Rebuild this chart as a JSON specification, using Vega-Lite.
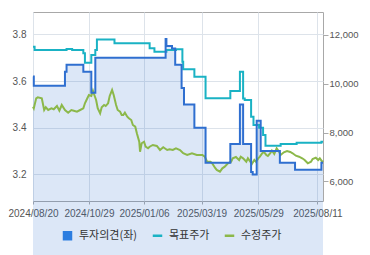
{
  "$schema": "https://vega.github.io/schema/vega-lite/v6.json",
  "width": 290,
  "height": 189,
  "autosize": "none",
  "padding": {"left": 33, "top": 12, "right": 47, "bottom": 54},
  "background": "white",
  "config": {
    "view": {"stroke": "#a8a8a8", "strokeWidth": 1},
    "axis": {"labelColor": "#555555", "labelFont": "Liberation Sans", "title": null, "domain": false}
  },
  "datasets": {
    "op": [
      {"d": "2024/08/20", "v": 3.62}, {"d": "2024/08/21", "v": 3.58}, {"d": "2024/09/29", "v": 3.64},
      {"d": "2024/10/01", "v": 3.67}, {"d": "2024/10/22", "v": 3.64}, {"d": "2024/11/01", "v": 3.55},
      {"d": "2024/11/06", "v": 3.70}, {"d": "2025/02/02", "v": 3.78}, {"d": "2025/02/03", "v": 3.75},
      {"d": "2025/02/10", "v": 3.74}, {"d": "2025/02/14", "v": 3.67}, {"d": "2025/02/22", "v": 3.57},
      {"d": "2025/02/25", "v": 3.50}, {"d": "2025/03/10", "v": 3.40}, {"d": "2025/03/24", "v": 3.25},
      {"d": "2025/04/24", "v": 3.33}, {"d": "2025/05/06", "v": 3.50}, {"d": "2025/05/10", "v": 3.33},
      {"d": "2025/05/20", "v": 3.21}, {"d": "2025/05/22", "v": 3.20}, {"d": "2025/05/27", "v": 3.43},
      {"d": "2025/06/01", "v": 3.30}, {"d": "2025/06/25", "v": 3.25}, {"d": "2025/07/14", "v": 3.22},
      {"d": "2025/08/16", "v": 3.25}, {"d": "2025/08/18", "v": 3.25}
    ],
    "tp": [
      {"d": "2024/08/20", "v": 11520}, {"d": "2024/08/22", "v": 11385}, {"d": "2024/10/01", "v": 11430},
      {"d": "2024/10/08", "v": 11385}, {"d": "2024/10/22", "v": 11250}, {"d": "2024/10/24", "v": 10860},
      {"d": "2024/11/01", "v": 11180}, {"d": "2024/11/06", "v": 11385}, {"d": "2024/11/08", "v": 11820},
      {"d": "2024/11/30", "v": 11660}, {"d": "2025/01/13", "v": 11455}, {"d": "2025/01/19", "v": 11315},
      {"d": "2025/02/03", "v": 11385}, {"d": "2025/02/15", "v": 11414}, {"d": "2025/02/23", "v": 10905},
      {"d": "2025/02/24", "v": 10600}, {"d": "2025/03/10", "v": 10290}, {"d": "2025/03/24", "v": 9404},
      {"d": "2025/04/24", "v": 9700}, {"d": "2025/05/06", "v": 10495}, {"d": "2025/05/10", "v": 9400},
      {"d": "2025/05/12", "v": 9334}, {"d": "2025/05/20", "v": 8650}, {"d": "2025/05/23", "v": 8310},
      {"d": "2025/05/30", "v": 8200}, {"d": "2025/06/04", "v": 7900}, {"d": "2025/06/07", "v": 7460},
      {"d": "2025/06/26", "v": 7530}, {"d": "2025/07/16", "v": 7583}, {"d": "2025/08/16", "v": 7625},
      {"d": "2025/08/18", "v": 7625}
    ],
    "px": [
      {"d": "2024/08/20", "v": 9060}, {"d": "2024/08/21", "v": 8994}, {"d": "2024/08/24", "v": 9404},
      {"d": "2024/08/26", "v": 9445}, {"d": "2024/08/31", "v": 9404}, {"d": "2024/09/03", "v": 8924},
      {"d": "2024/09/05", "v": 9035}, {"d": "2024/09/08", "v": 8924}, {"d": "2024/09/12", "v": 8994},
      {"d": "2024/09/15", "v": 8953}, {"d": "2024/09/19", "v": 9088}, {"d": "2024/09/22", "v": 8896},
      {"d": "2024/09/25", "v": 9129}, {"d": "2024/09/29", "v": 8924}, {"d": "2024/10/03", "v": 8814},
      {"d": "2024/10/07", "v": 8924}, {"d": "2024/10/10", "v": 8896}, {"d": "2024/10/14", "v": 8855},
      {"d": "2024/10/18", "v": 8924}, {"d": "2024/10/22", "v": 8994}, {"d": "2024/10/24", "v": 9199},
      {"d": "2024/10/27", "v": 9404}, {"d": "2024/10/29", "v": 9539}, {"d": "2024/11/01", "v": 9498},
      {"d": "2024/11/03", "v": 9716}, {"d": "2024/11/04", "v": 9609}, {"d": "2024/11/07", "v": 9334},
      {"d": "2024/11/09", "v": 8994}, {"d": "2024/11/12", "v": 8789}, {"d": "2024/11/14", "v": 9035},
      {"d": "2024/11/17", "v": 9129}, {"d": "2024/11/19", "v": 9088}, {"d": "2024/11/22", "v": 9199},
      {"d": "2024/11/24", "v": 9498}, {"d": "2024/11/27", "v": 9744}, {"d": "2024/11/29", "v": 9539},
      {"d": "2024/12/02", "v": 9129}, {"d": "2024/12/04", "v": 8924}, {"d": "2024/12/07", "v": 8855},
      {"d": "2024/12/09", "v": 8719}, {"d": "2024/12/11", "v": 8719}, {"d": "2024/12/13", "v": 8814},
      {"d": "2024/12/16", "v": 8650}, {"d": "2024/12/18", "v": 8584}, {"d": "2024/12/21", "v": 8514},
      {"d": "2024/12/23", "v": 8309}, {"d": "2024/12/26", "v": 8239}, {"d": "2024/12/28", "v": 7969},
      {"d": "2024/12/31", "v": 7624}, {"d": "2025/01/01", "v": 7214}, {"d": "2025/01/03", "v": 7559},
      {"d": "2025/01/06", "v": 7624}, {"d": "2025/01/08", "v": 7419}, {"d": "2025/01/11", "v": 7354},
      {"d": "2025/01/13", "v": 7419}, {"d": "2025/01/17", "v": 7489}, {"d": "2025/01/22", "v": 7448},
      {"d": "2025/01/26", "v": 7284}, {"d": "2025/01/30", "v": 7395}, {"d": "2025/02/04", "v": 7284},
      {"d": "2025/02/07", "v": 7313}, {"d": "2025/02/11", "v": 7284}, {"d": "2025/02/15", "v": 7354},
      {"d": "2025/02/20", "v": 7284}, {"d": "2025/02/24", "v": 7149}, {"d": "2025/03/01", "v": 7079},
      {"d": "2025/03/07", "v": 7149}, {"d": "2025/03/13", "v": 7079}, {"d": "2025/03/20", "v": 7079},
      {"d": "2025/03/23", "v": 7009}, {"d": "2025/03/26", "v": 6804}, {"d": "2025/03/30", "v": 6804},
      {"d": "2025/04/01", "v": 6751}, {"d": "2025/04/05", "v": 6546}, {"d": "2025/04/07", "v": 6464},
      {"d": "2025/04/11", "v": 6394}, {"d": "2025/04/14", "v": 6533}, {"d": "2025/04/17", "v": 6599},
      {"d": "2025/04/21", "v": 6738}, {"d": "2025/04/25", "v": 6804}, {"d": "2025/04/27", "v": 6943},
      {"d": "2025/05/01", "v": 6997}, {"d": "2025/05/05", "v": 6874}, {"d": "2025/05/07", "v": 7009},
      {"d": "2025/05/10", "v": 6943}, {"d": "2025/05/14", "v": 6804}, {"d": "2025/05/16", "v": 6943},
      {"d": "2025/05/19", "v": 6804}, {"d": "2025/05/21", "v": 6710}, {"d": "2025/05/24", "v": 6874},
      {"d": "2025/05/26", "v": 6804}, {"d": "2025/05/29", "v": 6943}, {"d": "2025/05/31", "v": 7009},
      {"d": "2025/06/03", "v": 7149}, {"d": "2025/06/05", "v": 7202}, {"d": "2025/06/08", "v": 7079},
      {"d": "2025/06/10", "v": 7038}, {"d": "2025/06/13", "v": 7149}, {"d": "2025/06/15", "v": 7263},
      {"d": "2025/06/18", "v": 7120}, {"d": "2025/06/21", "v": 7354}, {"d": "2025/06/24", "v": 7214},
      {"d": "2025/06/26", "v": 7079}, {"d": "2025/06/30", "v": 7190}, {"d": "2025/07/04", "v": 7243},
      {"d": "2025/07/08", "v": 7202}, {"d": "2025/07/11", "v": 7149}, {"d": "2025/07/15", "v": 7050},
      {"d": "2025/07/19", "v": 7009}, {"d": "2025/07/23", "v": 6943}, {"d": "2025/07/26", "v": 6874},
      {"d": "2025/07/30", "v": 6738}, {"d": "2025/08/03", "v": 6804}, {"d": "2025/08/05", "v": 6915},
      {"d": "2025/08/09", "v": 6968}, {"d": "2025/08/12", "v": 6874}, {"d": "2025/08/14", "v": 6943},
      {"d": "2025/08/17", "v": 6804}, {"d": "2025/08/18", "v": 6845}
    ]
  },
  "encoding": {
    "x": {
      "field": "d", "type": "temporal",
      "scale": {"domain": [{"year": 2024, "month": 8, "date": 20}, {"year": 2025, "month": 8, "date": 18}]},
      "axis": {
        "values": [
          {"year": 2024, "month": 8, "date": 20}, {"year": 2024, "month": 10, "date": 29},
          {"year": 2025, "month": 1, "date": 6}, {"year": 2025, "month": 3, "date": 19},
          {"year": 2025, "month": 5, "date": 29}, {"year": 2025, "month": 8, "date": 11}
        ],
        "format": "%Y/%m/%d", "labelFontSize": 10, "labelOverlap": false, "labelFlush": false,
        "grid": true, "gridColor": "#dde3ea", "tickSize": 3, "tickColor": "#aaaaaa", "labelPadding": 4
      }
    }
  },
  "layer": [
    {
      "data": {"name": "op"},
      "mark": {"type": "area", "interpolate": "step-after", "color": "#2f6fd0", "fillOpacity": 0.17},
      "encoding": {
        "y": {
          "field": "v", "type": "quantitative",
          "scale": {"domain": [3.086, 3.896], "zero": false, "nice": false},
          "axis": {"values": [3.2, 3.4, 3.6, 3.8], "format": ".1f", "grid": true, "gridColor": "#dde3ea",
                   "ticks": false, "labelFontSize": 10, "labelPadding": 7, "orient": "left"}
        }
      }
    },
    {
      "data": {"name": "tp"},
      "mark": {"type": "line", "interpolate": "step-after", "strokeWidth": 2},
      "encoding": {
        "y": {
          "field": "v", "type": "quantitative",
          "scale": {"domain": [5192, 12943], "zero": false, "nice": false},
          "axis": {"values": [6000, 8000, 10000, 12000], "format": ",.0f", "grid": false, "orient": "right",
                   "tickSize": 5, "tickColor": "#aaaaaa", "labelFontSize": 9.5, "labelPadding": 1}
        },
        "color": {
          "datum": "목표주가",
          "scale": {"domain": ["투자의견(좌)", "목표주가", "수정주가"], "range": ["#2f6fd0", "#1ab2c4", "#8cb84a"]},
          "legend": {
            "orient": "none", "legendX": 29, "legendY": 218, "direction": "horizontal", "title": null,
            "labelFont": "Noto Sans CJK KR", "labelFontSize": 11, "labelColor": "#333333",
            "symbolSize": 90, "symbolStrokeWidth": 2.5, "labelOffset": 6, "columnPadding": 9,
            "encode": {
              "symbols": {
                "update": {
                  "shape": {"signal": "datum.value === '투자의견(좌)' ? 'square' : 'stroke'"},
                  "fill": {"signal": "datum.value === '투자의견(좌)' ? '#2b7de0' : 'transparent'"},
                  "strokeWidth": {"signal": "datum.value === '투자의견(좌)' ? 0 : 2.5"}
                }
              }
            }
          }
        }
      }
    },
    {
      "data": {"name": "px"},
      "mark": {"type": "line", "strokeWidth": 2},
      "encoding": {
        "y": {
          "field": "v", "type": "quantitative",
          "scale": {"domain": [5192, 12943], "zero": false, "nice": false},
          "axis": null
        },
        "color": {"datum": "수정주가"}
      }
    },
    {
      "data": {"name": "op"},
      "mark": {"type": "line", "interpolate": "step-after", "strokeWidth": 2},
      "encoding": {
        "y": {
          "field": "v", "type": "quantitative",
          "scale": {"domain": [3.086, 3.896], "zero": false, "nice": false},
          "axis": null
        },
        "color": {"datum": "투자의견(좌)"}
      }
    }
  ],
  "resolve": {"scale": {"y": "independent"}}
}
